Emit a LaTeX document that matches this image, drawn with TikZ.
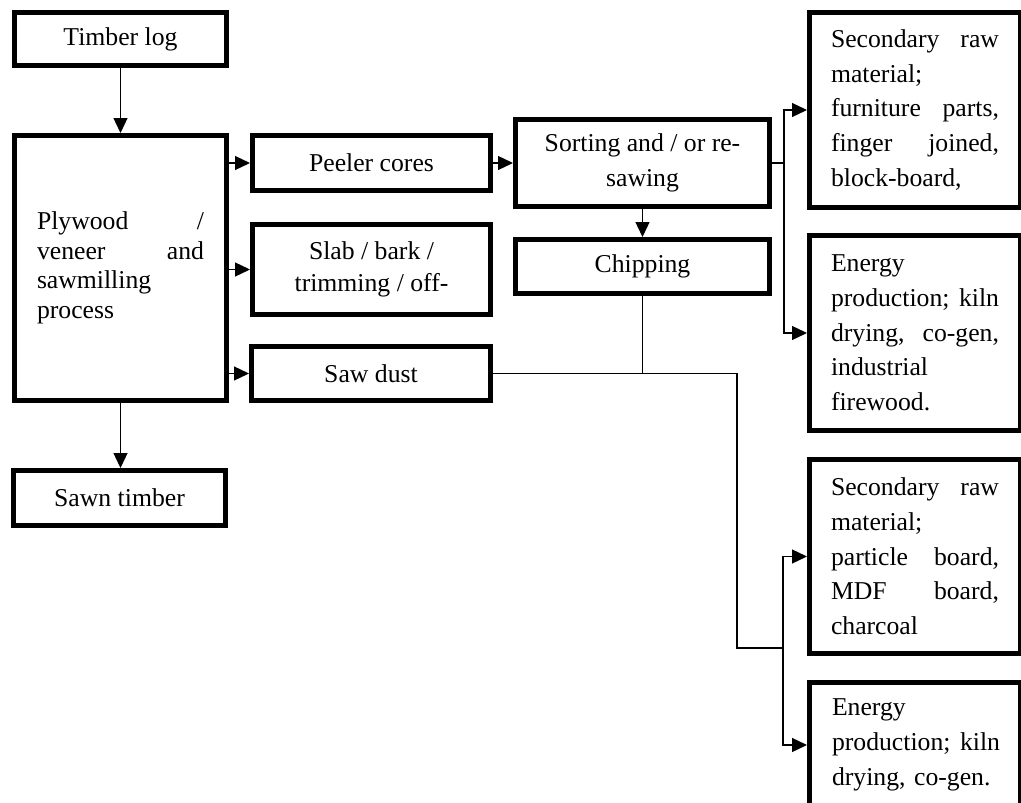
\documentclass[tikz,border=0pt]{standalone}
\usepackage{fontspec}
\setmainfont{Liberation Serif}
\usetikzlibrary{arrows.meta}
\newcommand\fsA{\fontsize{25.7}{34.7}\selectfont}
\newcommand\fsB{\fontsize{25.7}{29.5}\selectfont}
\newcommand\fsC{\fontsize{25.7}{32}\selectfont}
\tikzset{
  box/.style={draw, line width=5pt, inner sep=0pt, font=\fsA},
  conn/.style={line width=1.3pt},
  arr/.style={conn, -{Triangle[length=15pt,width=14pt]}},
  txt/.style={inner sep=0pt, font=\fsA, align=left}
}
\begin{document}
\begin{tikzpicture}[x=1pt,y=-1pt]
\clip (0,0) rectangle (1021,803);
\fill[white] (0,0) rectangle (1021,803);
% left column
\node[box, minimum width=212, minimum height=53] (timber) at (120.5,39) {Timber log};
\node[box, minimum width=212, minimum height=265, text width=167, align=left, font=\fsB] (ply) at (120.5,268)
  {Plywood\hfill/\\veneer\hfill and\\sawmilling\\process};
\node[box, minimum width=212, minimum height=55] (sawn) at (119.5,498) {Sawn timber};
% middle column
\node[box, minimum width=238, minimum height=55] (peeler) at (371.5,163) {Peeler cores};
\node[box, minimum width=238, minimum height=90, align=center, font=\fsC] (slab) at (371.5,269.5)
  {Slab / bark /\\trimming / off-};
\node[box, minimum width=239, minimum height=54] (sawdust) at (371,373.5) {Saw dust};
\node[box, minimum width=254, minimum height=87, align=center] (sorting) at (642.5,163)
  {Sorting and / or re-\\sawing};
\node[box, minimum width=254, minimum height=54] (chipping) at (642.5,266.5) {Chipping};
% right column
\node[box, minimum width=211, minimum height=195, text width=168, align=left] (r1) at (915,110)
  {Secondary\hfill raw\\material;\\furniture\hfill parts,\\finger\hfill joined,\\block-board,};
\node[box, minimum width=211, minimum height=195, text width=168, align=left] (r2) at (915,333)
  {Energy\\production;\hfill kiln\\drying,\hfill co-gen,\\industrial\\firewood.};
\node[box, minimum width=211, minimum height=194, text width=168, align=left] (r3) at (915,556.5)
  {Secondary\hfill raw\\material;\\particle\hfill board,\\MDF\hfill board,\\charcoal};
\node[box, minimum width=211, minimum height=195] (r4) at (915,780) {};
\node[txt, text width=168] (r4t) at (916,745) {Energy\\production;\hfill kiln\\drying, co-gen.};
% connectors
\draw[arr] (timber.south) -- (timber.south |- ply.north);
\draw[arr] (ply.south) -- (ply.south |- sawn.north);
\draw[arr] (ply.east |- peeler.west) -- (peeler.west);
\draw[arr] (ply.east |- slab.west) -- (slab.west);
\draw[arr] (ply.east |- sawdust.west) -- (sawdust.west);
\draw[arr] (peeler.east) -- (sorting.west |- peeler.east);
\draw[arr] (sorting.south) -- (chipping.north);
\coordinate (bus1) at (784,163);
\draw[conn] (sorting.east) -- (bus1);
\draw[arr] (bus1) |- (r1.west);
\draw[arr] (bus1) |- (r2.west);
\coordinate (j) at (642.5,374);
\draw[conn] (chipping.south) -- (j);
\coordinate (k) at (737,648);
\coordinate (bus2) at (783,648);
\draw[conn] (sawdust.east) -| (k) -- (bus2);
\draw[arr] (bus2) |- (r3.west);
\draw[arr] (bus2) |- (r4.west |- r4t.center);
\end{tikzpicture}
\end{document}
